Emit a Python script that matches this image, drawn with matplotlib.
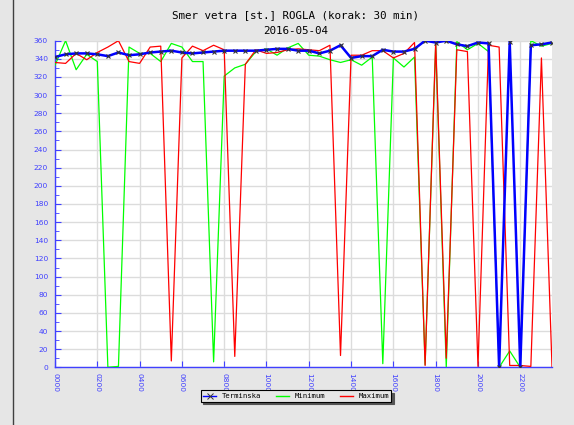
import numpy as np
import matplotlib
matplotlib.use('Agg')
import matplotlib.pyplot as plt
from matplotlib.lines import Line2D
from matplotlib.ticker import MultipleLocator, FixedLocator

# wind direction, 30 min step, 00:00 .. 23:30
hours = np.arange(48) * 0.5

terminska = [342, 345, 346, 346, 345, 343, 347, 344, 345, 347, 348, 349,
             347, 346, 347, 348, 349, 349, 349, 349, 350, 351, 351, 349,
             349, 346, 349, 355, 341, 343, 343, 350, 348, 348, 351, 360,
             358, 360, 356, 354, 358, 357, 0, 359, 0, 355, 356, 358]

minimum = [333, 360, 328, 345, 337, 0, 1, 353, 346, 346, 337, 357,
           353, 337, 337, 6, 321, 330, 334, 348, 351, 344, 352, 357,
           344, 343, 339, 336, 339, 333, 342, 4, 341, 331, 342, 3,
           355, 0, 359, 350, 357, 348, 0, 18, 0, 360, 354, 357]

maximum = [336, 335, 346, 339, 347, 353, 360, 337, 335, 353, 354, 7,
           341, 354, 349, 355, 350, 12, 334, 350, 346, 347, 350, 351,
           350, 349, 355, 13, 344, 344, 349, 349, 341, 346, 358, 2,
           358, 10, 350, 348, 1, 355, 353, 2, 2, 1, 341, 1]

xticks = np.arange(0, 24, 2)
xticklabels = ['%02d00' % h for h in xticks]

bg = '#e6e6e6'
axcol = '#4040ff'
mono = 'DejaVu Sans Mono'

fig = plt.figure(figsize=(5.74, 4.25), dpi=100, facecolor=bg)
ax = fig.add_axes([55/574, 1 - 367.3/425, 497/574, 326.6/425])
ax.set_facecolor('white')

ax.plot(hours, minimum, color='#00ff00', lw=0.9, zorder=3)
ax.plot(hours, maximum, color='#ff0000', lw=0.9, zorder=4)
ax.plot(hours, terminska, color='#0000ff', lw=1.8, zorder=5)
ax.plot(hours, terminska, ls='none', marker='x', ms=3.5, mew=0.8,
        color='#333333', zorder=6)

ax.set_xlim(0, 23.5)
ax.set_ylim(0, 360)
ax.yaxis.set_major_locator(MultipleLocator(20))
ax.yaxis.set_minor_locator(MultipleLocator(10))
ax.xaxis.set_major_locator(FixedLocator(xticks))
ax.set_xticklabels(xticklabels, rotation=270, fontsize=5.4, color=axcol)
for lab in ax.get_yticklabels():
    lab.set_fontsize(5.4)
    lab.set_color(axcol)

ax.grid(True, which='major', color='#dcdcdc', lw=1, zorder=0)
ax.tick_params(which='both', direction='in', color=axcol)
ax.tick_params(which='major', length=4)
ax.tick_params(which='minor', length=3)
ax.tick_params(axis='x', pad=4)
ax.tick_params(axis='y', pad=5)
for s in ['top', 'right']:
    ax.spines[s].set_visible(False)
for s in ['left', 'bottom']:
    ax.spines[s].set_color(axcol)
    ax.spines[s].set_linewidth(1)

fig.text(296/574, 1 - 15/425, 'Smer vetra [st.] ROGLA (korak: 30 min)',
         ha='center', va='center', family=mono, fontsize=7.8)
fig.text(296/574, 1 - 31/425, '2016-05-04',
         ha='center', va='center', family=mono, fontsize=7.8)

handles = [Line2D([], [], color='#0000ff', lw=1.0, marker='x', ms=5,
                  mec='#333333', mew=0.7),
           Line2D([], [], color='#00ff00', lw=1.0),
           Line2D([], [], color='#ff0000', lw=1.0)]
leg = fig.legend(handles, ['Terminska', 'Minimum', 'Maximum'], ncol=3,
                 loc='center', bbox_to_anchor=(296/574, 1 - 396/425),
                 prop={'family': mono, 'size': 5.2}, frameon=True,
                 fancybox=False, shadow={'color': '#555555', 'alpha': 1},
                 borderpad=0.35, handlelength=1.8, handletextpad=0.8,
                 columnspacing=2.0, borderaxespad=0)
leg.get_frame().set_facecolor(bg)
leg.get_frame().set_edgecolor('black')
leg.get_frame().set_linewidth(0.8)

fig.add_artist(Line2D([12.5/574, 12.5/574], [0, 1], color='#404040', lw=1))

fig.savefig('out.png', dpi=100, facecolor=bg)
